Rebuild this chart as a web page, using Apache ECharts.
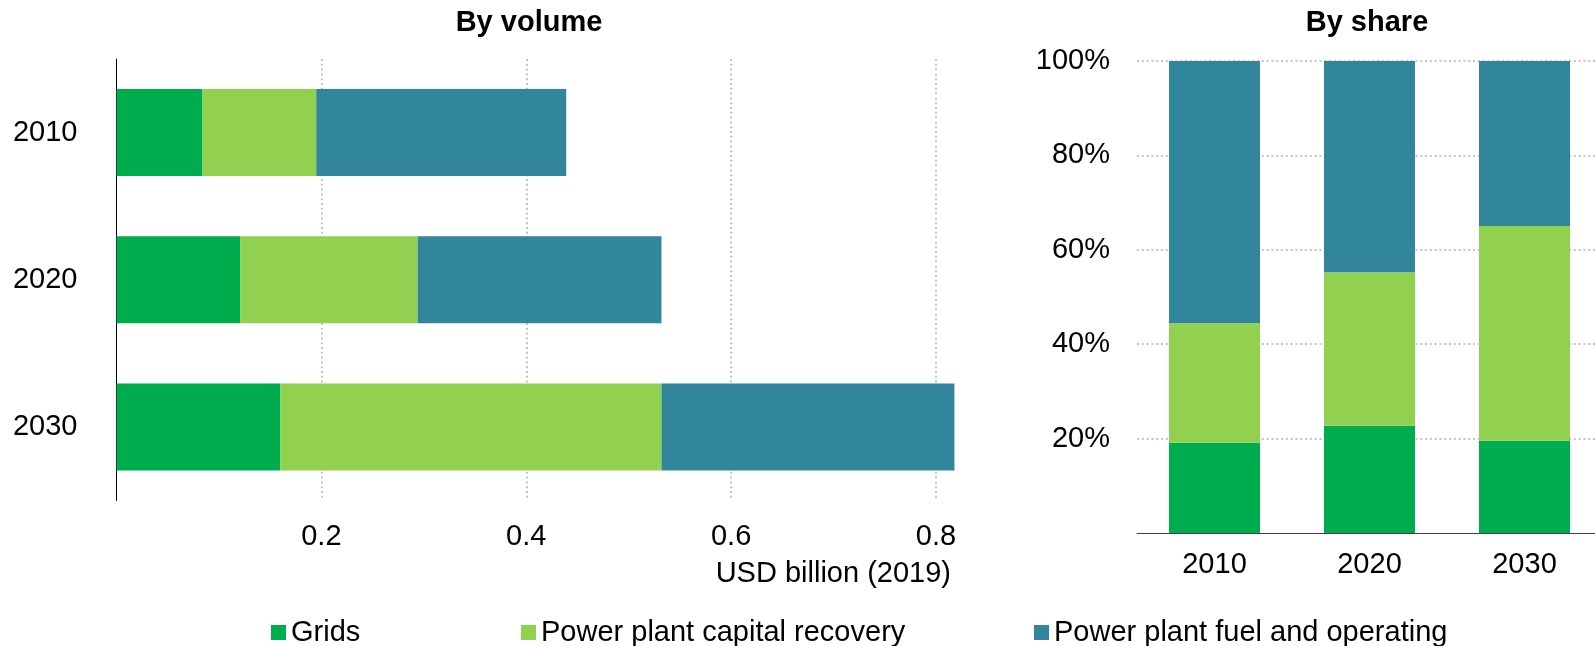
<!DOCTYPE html>
<html>
<head>
<meta charset="utf-8">
<script src="https://cdn.jsdelivr.net/npm/echarts@6/dist/echarts.min.js"></script>
<style>
  html, body { margin: 0; padding: 0; background: #fff; }
  #chart { width: 1595px; height: 646px; }
</style>
</head>
<body>
<div id="chart"></div>
<script>
// Cost components, USD billion (2019)
const years = ['2010', '2020', '2030'];
const grids = [0.084, 0.121, 0.160];
const capitalRecovery = [0.111, 0.173, 0.372];
const fuelOperating = [0.244, 0.238, 0.286];

// Tick labels
const volumeTicks = [0.2, 0.4, 0.6, 0.8];
const shareTicks = [20, 40, 60, 80, 100];

const seriesNames = ['Grids', 'Power plant capital recovery', 'Power plant fuel and operating'];
const colors = ['#00ad4e', '#92d050', '#31869b'];

// Shares of each year's total, in percent
const totals = years.map((_, i) => grids[i] + capitalRecovery[i] + fuelOperating[i]);
const toShare = arr => arr.map((v, i) => v / totals[i] * 100);

const FONT = '"Liberation Sans", Arial, sans-serif';
const FS = 29;
const GRID_GREY = '#c4c4c4';
const dotted = { type: [2, 2.8], width: 2 };

const volumeData = [grids, capitalRecovery, fuelOperating];

const series = [];
volumeData.forEach((data, k) => {
  series.push({
    name: seriesNames[k], type: 'bar', stack: 'volume',
    xAxisIndex: 0, yAxisIndex: 0, barWidth: 87,
    itemStyle: { color: colors[k] }, data: data
  });
});
volumeData.forEach((data, k) => {
  series.push({
    name: seriesNames[k], type: 'bar', stack: 'share',
    xAxisIndex: 1, yAxisIndex: 1, barWidth: 91,
    itemStyle: { color: colors[k] }, data: toShare(data)
  });
});

const legendLefts = [271, 521, 1034];
const legends = seriesNames.map((name, k) => ({
  data: [name], left: legendLefts[k], top: 618, padding: 0,
  icon: 'rect', itemWidth: 15, itemHeight: 15, selectedMode: false,
  textStyle: { fontSize: FS, color: '#000', fontFamily: FONT }
}));

const chart = echarts.init(document.getElementById('chart'), null, { renderer: 'canvas' });
chart.setOption({
  animation: false,
  textStyle: { fontFamily: FONT },
  legend: legends,
  grid: [
    { left: 116.5, right: 638.5, top: 59, bottom: 145.5, outerBoundsMode: 'none' },
    // the share panel runs slightly past the right edge of the page
    { left: 1137, width: 465, top: 61, bottom: 113, outerBoundsMode: 'none' }
  ],
  xAxis: [
    {
      type: 'value', gridIndex: 0, min: 0, max: 0.82, interval: 0.2,
      axisLine: { show: false }, axisTick: { show: false },
      axisLabel: {
        margin: 22, fontSize: FS, color: '#000',
        formatter: v => volumeTicks.some(t => Math.abs(t - v) < 1e-9) ? v.toFixed(1) : ''
      },
      splitLine: {
        show: true,
        lineStyle: Object.assign({ color: ['transparent', GRID_GREY, GRID_GREY, GRID_GREY, GRID_GREY, 'transparent'] }, dotted)
      }
    },
    {
      type: 'category', gridIndex: 1, data: years,
      axisLine: { show: true, lineStyle: { color: '#404040', width: 1 } },
      axisTick: { show: false },
      axisLabel: { margin: 17, fontSize: FS, color: '#000' }
    }
  ],
  yAxis: [
    {
      type: 'category', gridIndex: 0, data: years, inverse: true,
      axisLine: { show: true, lineStyle: { color: '#000', width: 1 } },
      axisTick: { show: false },
      axisLabel: { margin: 39, fontSize: FS, color: '#000' }
    },
    {
      type: 'value', gridIndex: 1, min: 0, max: 100, interval: 20,
      axisLine: { show: false }, axisTick: { show: false },
      axisLabel: {
        margin: 27, fontSize: FS, color: '#000', padding: [5, 0, 0, 0],
        formatter: v => shareTicks.indexOf(v) >= 0 ? v + '%' : ''
      },
      splitLine: {
        show: true,
        lineStyle: Object.assign({ color: ['transparent', GRID_GREY, GRID_GREY, GRID_GREY, GRID_GREY, GRID_GREY] }, dotted)
      }
    }
  ],
  graphic: [
    { type: 'text', x: 529, y: 23, style: { text: 'By volume', font: 'bold 29px ' + FONT, fill: '#000', align: 'center', verticalAlign: 'middle' } },
    { type: 'text', x: 1367, y: 23, style: { text: 'By share', font: 'bold 29px ' + FONT, fill: '#000', align: 'center', verticalAlign: 'middle' } },
    { type: 'text', x: 951, y: 574, style: { text: 'USD billion (2019)', font: FS + 'px ' + FONT, fill: '#000', align: 'right', verticalAlign: 'middle' } }
  ],
  series: series
});
</script>
</body>
</html>
